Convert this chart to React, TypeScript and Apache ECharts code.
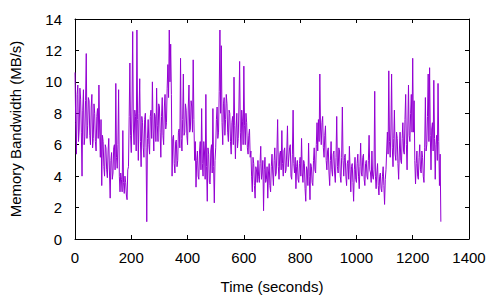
import React, { useEffect, useRef } from "react";
import * as echarts from "echarts";

// sample interval of the readings (seconds)
const STEP = 2.5;

// memory bandwidth readings (MB/s), one every STEP seconds from t = 0
const bw0to347 = [
  10.6, 7.4, 5.4, 9.2, 9.8, 6.2, 7.0, 9.6, 8.9, 6.8, 4.0, 8.2, 9.5, 6.0, 6.5, 8.8, 11.8, 6.4, 7.2, 9.0,
  8.8, 6.6, 6.0, 8.4, 9.2, 5.8, 6.4, 8.6, 8.0, 6.2, 5.6, 7.8, 8.3, 6.4, 9.8, 7.0, 5.2, 7.6, 3.4, 6.6,
  6.2, 4.6, 4.0, 6.0, 5.8, 4.4, 3.9, 5.6, 6.4, 4.2, 2.6, 5.0, 5.5, 3.8, 4.2, 5.8, 6.0, 4.4, 9.9, 5.2,
  4.5, 6.0, 9.5, 4.0, 3.0, 4.2, 3.8, 3.0, 6.9, 3.6, 2.9, 4.0, 3.6, 2.8, 2.5, 4.4, 4.6, 7.8, 11.2, 6.6,
  5.5, 8.4, 13.2, 7.0, 6.0, 8.2, 7.8, 5.6, 13.3, 7.6, 5.0, 8.0, 10.2, 6.2, 4.6, 7.8, 7.4, 5.8, 5.2, 7.6,
  8.0, 5.8, 1.1, 6.4, 7.6, 6.0, 5.4, 7.8, 8.2, 6.4, 10.0, 7.0, 5.6, 8.0, 7.8, 6.2, 9.6, 7.2, 6.2, 8.6,
  8.4, 6.8, 5.2, 7.8, 9.0, 6.6, 6.0, 8.4, 9.2, 7.0, 7.4, 9.6, 11.1, 9.0, 13.3, 10.0, 12.4, 9.2, 4.0, 6.4,
];
const bw350to697 = [
  6.6, 4.8, 4.2, 6.2, 6.3, 4.6, 5.0, 6.8, 7.0, 5.8, 11.5, 6.4, 5.6, 7.6, 10.5, 6.6, 6.8, 8.6, 8.2, 6.6,
  6.0, 8.4, 9.8, 6.8, 7.0, 8.8, 8.4, 6.8, 11.4, 7.6, 5.0, 6.2, 3.3, 5.0, 5.6, 4.0, 3.8, 5.6, 6.2, 4.4,
  8.3, 4.8, 4.0, 6.2, 5.6, 3.8, 9.2, 4.6, 2.4, 5.8, 5.4, 3.6, 3.5, 5.6, 6.0, 4.2, 8.3, 4.6, 2.3, 5.0,
  5.8, 7.6, 8.4, 6.4, 6.8, 9.4, 13.3, 8.0, 12.3, 7.4, 6.0, 8.6, 9.0, 6.6, 7.6, 9.2, 8.6, 6.8, 6.2, 8.2,
  8.0, 6.2, 5.4, 7.4, 7.8, 6.0, 10.3, 7.2, 5.1, 7.0, 8.0, 5.8, 6.4, 8.4, 11.3, 6.8, 5.6, 8.2, 7.5, 6.0,
  11.0, 7.2, 6.0, 8.0, 7.4, 5.8, 5.4, 6.6, 7.0, 5.2, 5.6, 4.0, 3.0, 5.2, 4.8, 3.4, 2.6, 4.6, 4.4, 3.6,
  5.0, 4.0, 3.6, 4.8, 5.9, 3.8, 4.2, 5.0, 1.8, 4.4, 5.2, 3.6, 3.8, 4.6, 2.6, 4.2, 4.8, 3.4, 3.0, 4.6,
];
const bw700to1047 = [
  5.4, 4.2, 3.4, 5.0, 5.8, 4.0, 4.2, 5.6, 7.6, 4.6, 3.8, 5.4, 5.6, 4.4, 6.9, 4.8, 4.0, 5.6, 5.8, 4.2,
  4.4, 5.6, 7.2, 4.6, 4.6, 5.8, 6.0, 4.0, 3.8, 5.4, 8.2, 4.8, 4.2, 5.2, 3.2, 4.6, 5.0, 3.8, 3.6, 4.8,
  5.2, 4.0, 6.4, 4.2, 3.6, 5.0, 4.8, 3.2, 2.4, 4.6, 4.4, 3.4, 6.1, 4.0, 2.5, 4.8, 4.6, 3.6, 3.4, 5.0,
  5.8, 4.4, 4.2, 6.0, 7.4, 5.6, 7.6, 6.2, 10.5, 7.0, 6.0, 7.4, 7.8, 5.8, 5.2, 6.6, 7.2, 5.0, 4.4, 5.6,
  5.8, 4.2, 3.4, 5.0, 6.2, 4.4, 4.0, 5.4, 5.6, 4.2, 3.6, 5.2, 7.8, 4.6, 4.2, 5.8, 5.6, 4.0, 3.6, 5.2,
  8.4, 5.0, 4.0, 5.2, 5.4, 4.0, 3.4, 4.8, 5.0, 3.8, 5.9, 4.4, 3.0, 4.6, 4.8, 3.6, 2.4, 4.4, 5.2, 3.8,
  3.6, 4.8, 5.4, 4.0, 3.2, 4.6, 6.1, 4.2, 4.0, 5.2, 5.4, 3.8, 3.4, 4.8, 5.0, 4.0, 3.8, 5.0, 6.6, 4.4,
];
const bw1050to1300 = [
  4.2, 3.6, 5.6, 4.0, 3.8, 4.4, 9.4, 4.0, 3.2, 4.2, 4.8, 3.4, 2.8, 4.0, 4.2, 3.2, 3.0, 4.0, 4.6, 3.4,
  2.2, 3.8, 4.4, 5.6, 6.8, 5.4, 10.7, 6.2, 5.2, 7.0, 10.5, 5.8, 4.6, 6.4, 8.2, 5.4, 5.0, 6.8, 6.4, 4.8,
  3.8, 5.6, 6.8, 5.0, 4.8, 6.4, 7.4, 5.6, 5.4, 7.6, 9.2, 6.0, 4.4, 7.0, 9.8, 6.6, 6.2, 8.0, 9.2, 6.8,
  11.5, 6.8, 8.8, 5.0, 3.5, 4.8, 5.6, 4.0, 3.8, 5.2, 6.0, 4.4, 4.2, 5.6, 5.2, 4.0, 3.6, 5.8, 9.0, 5.6,
  6.0, 7.8, 10.5, 6.2, 10.9, 6.6, 4.4, 7.0, 7.4, 5.6, 10.1, 6.4, 3.8, 6.0, 6.6, 5.0, 9.9, 6.2, 3.4, 5.4,
  1.1,
];

const xTicks = { min: 0, max: 1400, interval: 200 };
const yTicks = { min: 0, max: 14, interval: 2 };

const FONT = "'Liberation Sans', Arial, sans-serif";
const FS = 15;

export default function App() {
  const ref = useRef<HTMLDivElement>(null);

  useEffect(() => {
    if (!ref.current) return;
    const chart = echarts.init(ref.current, undefined, { renderer: "svg" });
    const values = [...bw0to347, ...bw350to697, ...bw700to1047, ...bw1050to1300];
    const data = values.map((v, i) => [i * STEP, v]);

    const axisCommon = {
      axisLine: { show: true, onZero: false, lineStyle: { color: "#000", width: 1 } },
      axisTick: { show: true, inside: true, length: 4, lineStyle: { color: "#000" } },
      splitLine: { show: false },
    };

    chart.setOption({
      animation: false,
      backgroundColor: "#fff",
      grid: { left: 74, right: 31, top: 19, bottom: 61 },
      xAxis: [
        {
          type: "value",
          position: "bottom",
          ...xTicks,
          ...axisCommon,
          axisLabel: {
            color: "#000",
            fontFamily: FONT,
            fontSize: FS,
            margin: 11,
            formatter: (v: number) => String(v),
          },
          name: "Time (seconds)",
          nameLocation: "middle",
          nameGap: 40,
          nameTextStyle: { color: "#000", fontFamily: FONT, fontSize: FS },
        },
        {
          type: "value",
          position: "top",
          ...xTicks,
          ...axisCommon,
          axisLabel: { show: false },
        },
      ],
      yAxis: [
        {
          type: "value",
          position: "left",
          ...yTicks,
          ...axisCommon,
          axisLabel: { color: "#000", fontFamily: FONT, fontSize: FS, margin: 13 },
          name: "Memory Bandwidth (MB/s)",
          nameLocation: "middle",
          nameGap: 52,
          nameTextStyle: { color: "#000", fontFamily: FONT, fontSize: FS },
        },
        {
          type: "value",
          position: "right",
          ...yTicks,
          ...axisCommon,
          axisLabel: { show: false },
        },
      ],
      series: [
        {
          type: "line",
          xAxisIndex: 0,
          yAxisIndex: 0,
          data,
          showSymbol: false,
          symbol: "none",
          lineStyle: { color: "#9400d3", width: 1 },
          silent: true,
        },
      ],
    });

    return () => chart.dispose();
  }, []);

  return <div ref={ref} style={{ width: 500, height: 300, position: "absolute", left: 0, top: 0 }} />;
}
